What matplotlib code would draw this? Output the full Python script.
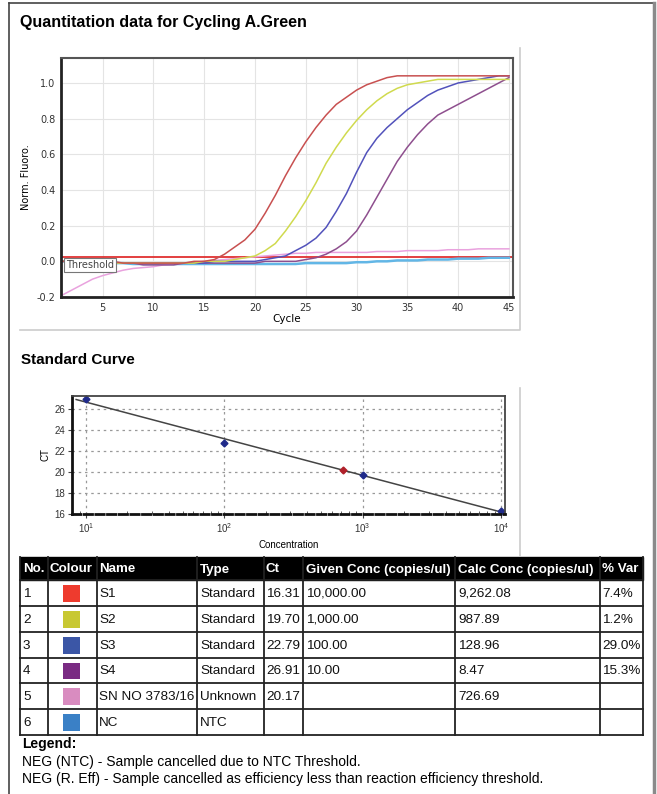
import matplotlib
matplotlib.use("Agg")
import matplotlib.pyplot as plt
import numpy as np
from matplotlib.patches import Rectangle
from matplotlib.ticker import LogLocator, NullFormatter, MultipleLocator

plt.rcParams['font.family'] = ['Liberation Sans', 'DejaVu Sans']

W, H = 657, 794

# amplification curves, one value per cycle (1..45)
cycles = np.arange(1, 46)
s1 = [0.00, 0.00, 0.00, 0.00, 0.00, 0.00, -0.01, -0.01, -0.01, -0.01, -0.01, -0.01, -0.01, 0.00, 0.00,
      0.01, 0.04, 0.08, 0.12, 0.18, 0.27, 0.37, 0.48, 0.58, 0.67, 0.75, 0.82, 0.88, 0.92, 0.96,
      0.99, 1.01, 1.03, 1.04, 1.04, 1.04, 1.04, 1.04, 1.04, 1.04, 1.04, 1.04, 1.04, 1.04, 1.04]
s2 = [0.00, 0.00, 0.00, 0.00, 0.00, -0.01, -0.01, -0.01, -0.01, -0.01, -0.01, -0.01, -0.01, -0.01, 0.00,
      0.00, 0.00, 0.01, 0.02, 0.03, 0.06, 0.10, 0.17, 0.25, 0.34, 0.44, 0.55, 0.64, 0.72, 0.79,
      0.85, 0.90, 0.94, 0.97, 0.99, 1.00, 1.01, 1.02, 1.02, 1.02, 1.02, 1.02, 1.02, 1.02, 1.02]
s3 = [0.00, 0.00, 0.00, -0.01, -0.01, -0.01, -0.01, -0.01, -0.01, -0.01, -0.01, -0.01, -0.01, -0.01, -0.01,
      0.00, 0.00, 0.00, 0.00, 0.00, 0.01, 0.02, 0.03, 0.06, 0.09, 0.13, 0.19, 0.28, 0.38, 0.50,
      0.61, 0.69, 0.75, 0.80, 0.85, 0.89, 0.93, 0.96, 0.98, 1.00, 1.01, 1.02, 1.03, 1.04, 1.04]
s4 = [0.00, 0.00, -0.01, -0.01, -0.01, -0.01, -0.01, -0.01, -0.02, -0.02, -0.02, -0.02, -0.01, -0.01, -0.01,
      -0.01, -0.01, -0.01, -0.01, -0.01, 0.00, 0.00, 0.00, 0.00, 0.01, 0.02, 0.04, 0.07, 0.11, 0.17,
      0.26, 0.36, 0.46, 0.56, 0.64, 0.71, 0.77, 0.82, 0.85, 0.88, 0.91, 0.94, 0.97, 1.00, 1.03]
sn = [-0.19, -0.16, -0.13, -0.10, -0.08, -0.065, -0.05, -0.04, -0.035, -0.03, -0.02, -0.015, -0.01, -0.005, 0.00,
      0.005, 0.01, 0.015, 0.02, 0.025, 0.03, 0.035, 0.04, 0.045, 0.045, 0.05, 0.05, 0.05, 0.05, 0.05,
      0.05, 0.055, 0.055, 0.055, 0.06, 0.06, 0.06, 0.06, 0.065, 0.065, 0.065, 0.07, 0.07, 0.07, 0.07]
nc = [0.00, 0.00, 0.00, -0.005, -0.01, -0.01, -0.01, -0.015, -0.015, -0.015, -0.015, -0.015, -0.015, -0.015, -0.015,
      -0.015, -0.015, -0.015, -0.015, -0.015, -0.015, -0.015, -0.015, -0.015, -0.01, -0.01, -0.01, -0.01, -0.01, -0.005,
      -0.005, 0.00, 0.00, 0.005, 0.005, 0.005, 0.01, 0.01, 0.01, 0.015, 0.015, 0.015, 0.02, 0.02, 0.02]
threshold = 0.027

# standard curve
std_conc = [10, 100, 1000, 10000]
std_ct = [26.91, 22.79, 19.70, 16.31]
unk_conc = [726.69]
unk_ct = [20.17]

# results table
col_labels = ["No.", "Colour", "Name", "Type", "Ct", "Given Conc (copies/ul)", "Calc Conc (copies/ul)", "% Var"]
row_no = ["1", "2", "3", "4", "5", "6"]
swatches = ["#ee3b2e", "#c8c832", "#3b56a6", "#7a2b83", "#d98cc0", "#3a80c6"]
names = ["S1", "S2", "S3", "S4", "SN NO 3783/16", "NC"]
types = ["Standard", "Standard", "Standard", "Standard", "Unknown", "NTC"]
cts = ["16.31", "19.70", "22.79", "26.91", "20.17", ""]
given = ["10,000.00", "1,000.00", "100.00", "10.00", "", ""]
calc = ["9,262.08", "987.89", "128.96", "8.47", "726.69", ""]
var = ["7.4%", "1.2%", "29.0%", "15.3%", "", ""]

fig = plt.figure(figsize=(W / 100, H / 100), dpi=100)


def px_axes(x0, y0, x1, y1):
    return fig.add_axes([x0 / W, 1 - y1 / H, (x1 - x0) / W, (y1 - y0) / H])


canvas = fig.add_axes([0, 0, 1, 1])
canvas.set_xlim(0, W)
canvas.set_ylim(H, 0)
canvas.axis('off')

# frames
canvas.plot([9, 9], [3, H], color='#444444', lw=1.2)
canvas.plot([9, 654], [3, 3], color='#444444', lw=1.2)
canvas.plot([654, 654], [3, H], color='#8a8a8a', lw=2.5)
canvas.plot([20, 520, 520], [330, 330, 48], color='#cccccc', lw=1.2)
canvas.plot([520, 520], [388, 556], color='#cccccc', lw=1.2)

canvas.text(20, 22, "Quantitation data for Cycling A.Green", fontsize=11.5, weight='bold', va='center')
canvas.text(21, 360, "Standard Curve", fontsize=11, weight='bold', va='center')

# ---- amplification plot
ax1 = px_axes(61, 58, 513, 297)
ax1.set_xlim(0.9, 45.4)
ax1.set_ylim(-0.2, 1.14)
ax1.grid(True, color='#e4e4e4', lw=0.8)
ax1.set_axisbelow(True)
ax1.set_xticks([5, 10, 15, 20, 25, 30, 35, 40, 45])
ax1.set_yticks([-0.2, 0.0, 0.2, 0.4, 0.6, 0.8, 1.0])
ax1.set_yticklabels(["-0.2", "0.0", "0.2", "0.4", "0.6", "0.8", "1.0"])
ax1.tick_params(length=0, labelsize=7, labelcolor='#333333', pad=4)
for lab in ax1.get_xticklabels() + ax1.get_yticklabels():
    lab.set_family('DejaVu Sans')
for side in ['left', 'bottom']:
    ax1.spines[side].set_color('#222222')
    ax1.spines[side].set_linewidth(2)
for side in ['top', 'right']:
    ax1.spines[side].set_color('#555555')
    ax1.spines[side].set_linewidth(1.5)

ax1.axhline(threshold, color='#e03030', lw=1.3)
ax1.plot(cycles, nc, color='#62b6e6', lw=1.8)
ax1.plot(cycles, sn, color='#e9a2de', lw=1.1)
ax1.plot(cycles, s4, color='#8e4f8e', lw=1.1)
ax1.plot(cycles, s3, color='#5252bb', lw=1.1)
ax1.plot(cycles, s2, color='#d0da4e', lw=1.1)
ax1.plot(cycles, s1, color='#c85050', lw=1.1)
ax1.text(1.35, -0.02, "Threshold", fontsize=7, color='#444444', va='center', family='DejaVu Sans',
         bbox=dict(facecolor='white', edgecolor='#777777', boxstyle='square,pad=0.2', lw=0.8))
ax1.set_ylabel("Norm. Fluoro.", fontsize=7, family='DejaVu Sans', labelpad=4)
ax1.set_xlabel("Cycle", fontsize=7.5, family='DejaVu Sans', labelpad=1)

# ---- standard curve
ax2 = px_axes(72, 396, 505, 514)
ax2.set_xscale('log')
ax2.set_xlim(10 ** 0.9, 10 ** 4.03)
ax2.set_ylim(16, 27.24)
ax2.set_yticks([16, 18, 20, 22, 24, 26])
ax2.xaxis.set_major_locator(LogLocator(base=10, numticks=10))
ax2.xaxis.set_minor_locator(LogLocator(base=10, subs=np.arange(2, 10), numticks=10))
ax2.xaxis.set_minor_formatter(NullFormatter())
ax2.grid(True, which='major', color='#999999', lw=0.9, ls=(0, (2, 3)))
ax2.set_axisbelow(True)
ax2.tick_params(which='major', labelsize=7, length=3, color='#444444', labelcolor='#333333', pad=2)
ax2.tick_params(axis='x', which='minor', length=2, direction='in', color='#444444')
ax2.spines['left'].set_color('#111111')
ax2.spines['left'].set_linewidth(2)
ax2.spines['bottom'].set_color('#111111')
ax2.spines['bottom'].set_linewidth(2)
ax2.spines['bottom'].set_linestyle((0, (3, 1.2)))
for side in ['top', 'right']:
    ax2.spines[side].set_color('#444444')
    ax2.spines[side].set_linewidth(1.3)

slope, icpt = np.polyfit(np.log10(std_conc), std_ct, 1)
fit_x = np.array([0.93, np.log10(std_conc[-1])])
ax2.plot(10 ** fit_x, slope * fit_x + icpt, color='#444444', lw=1.1)
ax2.plot(std_conc, std_ct, 'D', color='#1f2a8a', ms=3.5, clip_on=False)
ax2.plot(unk_conc, unk_ct, 'D', color='#b0202a', ms=3.5)
ax2.set_ylabel("CT", fontsize=7, labelpad=3)
ax2.set_xlabel("Concentration", fontsize=7, labelpad=4)

# ---- table
xs = [20, 48, 97, 197, 264, 303, 455, 600, 643]
ys = [557, 580, 606, 632, 658, 683, 709, 735]
text_x = [23, 50, 99, 200, 266, 306, 458, 602]
canvas.add_patch(Rectangle((xs[0], ys[0]), xs[-1] - xs[0], ys[1] - ys[0], facecolor='black', edgecolor='black'))
for tx, lab in zip(text_x, col_labels):
    canvas.text(tx, (ys[0] + ys[1]) / 2 + 1, lab, color='white', weight='bold', fontsize=9.6, va='center')

cols = [row_no, None, names, types, cts, given, calc, var]
for i in range(len(names)):
    yc = (ys[i + 1] + ys[i + 2]) / 2 + 1
    for j, col in enumerate(cols):
        if col is None:
            canvas.add_patch(Rectangle((63, ys[i + 1] + 4.5), 17, ys[i + 2] - ys[i + 1] - 9,
                                       facecolor=swatches[i], edgecolor='none'))
        elif col[i]:
            canvas.text(text_x[j], yc, col[i], fontsize=9.7, va='center', color='#111111')

for y in ys[1:]:
    canvas.plot([xs[0], xs[-1]], [y, y], color='#222222', lw=1.3)
for x in xs:
    canvas.plot([x, x], [ys[0], ys[-1]], color='#222222', lw=1.3)

canvas.text(22, 744, "Legend:", fontsize=10, weight='bold', va='center')
canvas.text(22, 762, "NEG (NTC) - Sample cancelled due to NTC Threshold.", fontsize=10, va='center')
canvas.text(22, 779, "NEG (R. Eff) - Sample cancelled as efficiency less than reaction efficiency threshold.",
            fontsize=10, va='center')

fig.savefig("out.png", dpi=100)
